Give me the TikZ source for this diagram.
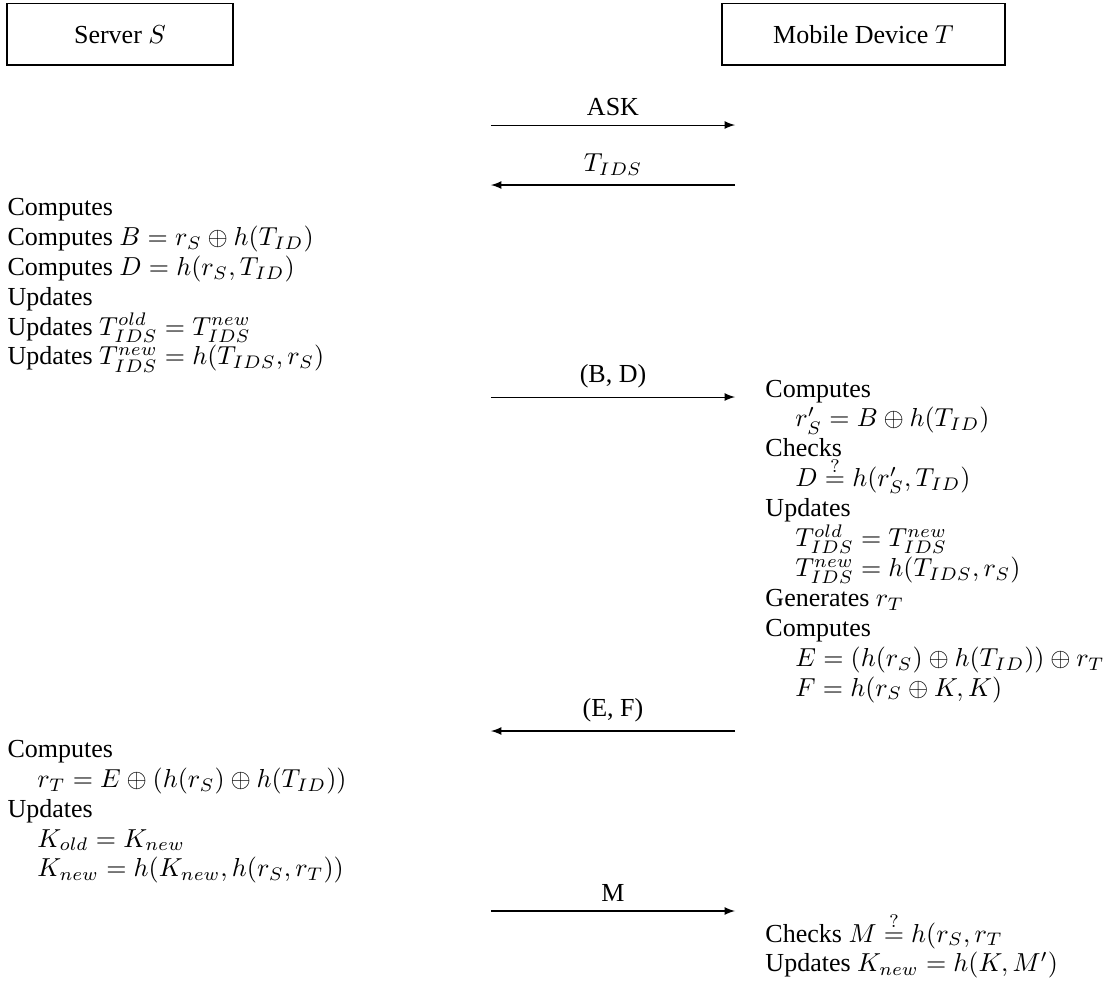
\documentclass[tikz,border=0pt]{standalone}
\usepackage{amsmath}
\usepackage{amssymb}
\usepackage{fontspec}
\setmainfont{Liberation Serif}
\usepackage{tikz}
\usetikzlibrary{arrows,positioning,calc}
\newcommand{\ind}{\hspace*{1.15em}}
\newcommand{\tightlines}{\fontsize{10pt}{11.5pt}\selectfont\lineskiplimit=-100pt\relax}

\begin{document}
\begin{tikzpicture}[every node/.style={font=\fontsize{10pt}{11.5pt}\selectfont}]
    \useasboundingbox (0,0) rectangle (15.127,-13.288);
    \tikzset{party/.style={draw, minimum height=0.825cm},
             steps/.style={align=left, inner sep=0pt, anchor=base west, font=\tightlines},
             msg/.style={->, >=latex}}
    % Nodes (base = last line)
    \node[party, minimum width=3.055cm] (server) at (1.622, -0.466) {Server $S$};
    \node[party, minimum width=3.826cm] (device) at (11.673, -0.466) {Mobile Device $T$};

    \node[steps] (srvA) at (0.095, -4.934) {Computes\\
        Computes $B = r_S \oplus h(T_{ID})$\\
        Computes $D = h(r_S, T_{ID})$\\
        Updates\\
        Updates $T^{old}_{IDS} = T^{new}_{IDS}$\\
        Updates $T^{new}_{IDS} = h(T_{IDS}, r_S)$};
    \node[steps] (devA) at (10.341, -9.409) {Computes\\
        \ind $r'_S = B \oplus h(T_{ID})$\\
        Checks\\
        \ind $D \stackrel{?}{=} h(r'_S, T_{ID})$\\
        Updates\\
        \ind $T^{old}_{IDS} = T^{new}_{IDS}$\\
        \ind $T^{new}_{IDS} = h(T_{IDS}, r_S)$\\
        Generates $r_T$\\
        Computes\\
        \ind $E = (h(r_S) \oplus h(T_{ID})) \oplus r_T$\\
        \ind $F = h(r_S \oplus K, K)$};
    \node[steps] (srvB) at (0.095, -11.855) {Computes\\
        \ind $r_T = E \oplus (h(r_S) \oplus h(T_{ID}))$\\
        Updates\\
        \ind $K_{old} = K_{new}$\\
        \ind $K_{new} = h(K_{new}, h(r_S, r_T))$};
    \node[steps] (devB) at (10.341, -13.139) {Checks $M \stackrel{?}{=} h(r_S, r_T$\\
        Updates $K_{new} = h(K, M')$};

    % Message ends
    \coordinate (askL) at (6.637, -1.690);
    \coordinate (askR) at (9.936, -1.690);
    \coordinate (idsL) at (6.637, -2.501);
    \coordinate (idsR) at (9.936, -2.501);
    \coordinate (bdL) at (6.637, -5.367);
    \coordinate (bdR) at (9.936, -5.367);
    \coordinate (efL) at (6.637, -9.882);
    \coordinate (efR) at (9.936, -9.882);
    \coordinate (mL) at (6.637, -12.315);
    \coordinate (mR) at (9.936, -12.315);

    % Paths
    \draw[msg] (askL) -- node[above] {ASK} (askR);
    \draw[msg] (idsR) -- node[above] {$T_{IDS}$} (idsL);
    \draw[msg] (bdL) -- node[above] {(B, D)} (bdR);
    \draw[msg] (efR) -- node[above] {(E, F)} (efL);
    \draw[msg] (mL) -- node[above] {M} (mR);
\end{tikzpicture}
\end{document}
